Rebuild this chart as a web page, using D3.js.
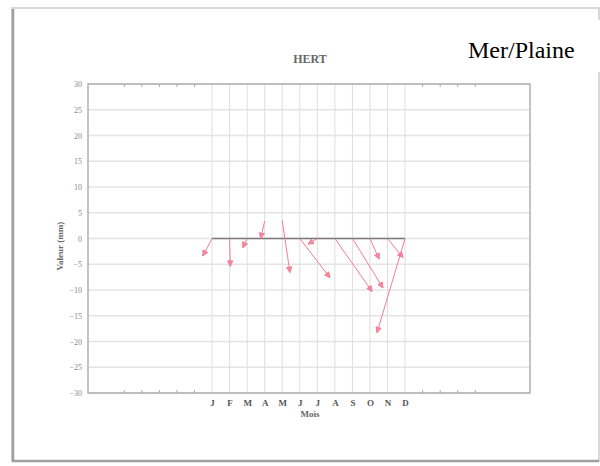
<!DOCTYPE html>
<html>
<head>
<meta charset="utf-8">
<script src="https://cdn.jsdelivr.net/npm/d3@7"></script>
<style>
  body { margin: 0; background: #fff; }
  svg { display: block; font-family: "Liberation Serif", "DejaVu Serif", serif; }
</style>
</head>
<body>
<div id="chart"></div>
<script>
// Données
const months = ["J", "F", "M", "A", "M", "J", "J", "A", "S", "O", "N", "D"];
const monthPos = [1, 2, 3, 4, 5, 6, 7, 8, 9, 10, 11, 12];
const yTicks = [30, 25, 20, 15, 10, 5, 0, -5, -10, -15, -20, -25, -30];
const edgeTicks = [-4, -3, -2, -1, 0, 13, 14, 15, 16];

// flèches : départ (x0, y0) -> arrivée (x1, y1), en mois et en mm
const arrowX0 = [1, 2, 3, 4, 5, 6, 7, 8, 9, 10, 11, 12];
const arrowY0 = [0, 0, 0, 3.4, 3.5, 0, 0, 0, 0, 0, 0, 0];
const arrowX1 = [0.47, 2.04, 2.75, 3.77, 5.44, 7.72, 6.47, 10.12, 10.74, 10.52, 11.88, 10.4];
const arrowY1 = [-3.4, -5.4, -1.8, 0, -6.6, -7.6, -1.1, -10.3, -9.6, -4.0, -3.7, -18.3];

const width = 600, height = 466;
const serif = '"Liberation Serif", "DejaVu Serif", serif';
const svg = d3.select("#chart").append("svg")
    .attr("width", width).attr("height", height);

// cadre extérieur
svg.append("rect")
    .attr("x", 12).attr("y", 8).attr("width", 587).attr("height", 453)
    .attr("fill", "#fff").attr("stroke", "#cccccc").attr("stroke-width", 1.5);
svg.append("path")
    .attr("d", "M13,9 L13,461 L599,461")
    .attr("fill", "none").attr("stroke", "#a0a0a0").attr("stroke-width", 2.5);

const plot = { left: 88, right: 530, top: 84, bottom: 393 };

const x = d3.scaleLinear().domain([-6.07, 19.12]).range([plot.left, plot.right]);
const y = d3.scaleLinear().domain([-30, 30]).range([plot.bottom, plot.top]);

// grille horizontale
svg.append("g")
    .selectAll("line")
    .data(yTicks)
    .enter().append("line")
    .attr("x1", plot.left).attr("x2", plot.right)
    .attr("y1", d => y(d)).attr("y2", d => y(d))
    .attr("stroke", "#e4e4e4").attr("stroke-width", 1.5);

// grille verticale (mois)
svg.append("g")
    .selectAll("line")
    .data(monthPos)
    .enter().append("line")
    .attr("x1", d => x(d)).attr("x2", d => x(d))
    .attr("y1", plot.top).attr("y2", plot.bottom)
    .attr("stroke", "#dedede").attr("stroke-width", 1);

// cadre du graphique
svg.append("rect")
    .attr("x", plot.left).attr("y", plot.top)
    .attr("width", plot.right - plot.left).attr("height", plot.bottom - plot.top)
    .attr("fill", "none").attr("stroke", "#b0b0b0").attr("stroke-width", 1.5);

// petites graduations en haut et en bas
const tickG = svg.append("g").attr("stroke", "#aaa");
tickG.selectAll(".tb").data(edgeTicks).enter().append("line")
    .attr("x1", d => x(d)).attr("x2", d => x(d))
    .attr("y1", plot.bottom).attr("y2", plot.bottom - 3);
tickG.selectAll(".tt").data(edgeTicks).enter().append("line")
    .attr("x1", d => x(d)).attr("x2", d => x(d))
    .attr("y1", plot.top).attr("y2", plot.top + 3);

// axe Y
const yAxis = svg.append("g")
    .attr("transform", `translate(${plot.left},0)`)
    .call(d3.axisLeft(y).tickValues(yTicks).tickSize(0).tickPadding(6))
    .attr("font-family", serif);
yAxis.select(".domain").remove();
yAxis.selectAll("text")
    .attr("fill", "#888").style("font-size", "8px");

// axe X (mois)
const xAxis = svg.append("g")
    .attr("transform", `translate(0,${plot.bottom})`)
    .call(d3.axisBottom(x).tickValues(monthPos).tickFormat((d, i) => months[i]).tickSize(0).tickPadding(7))
    .attr("font-family", serif);
xAxis.select(".domain").remove();
xAxis.selectAll("text")
    .attr("fill", "#555").style("font-size", "9px").style("font-weight", "bold");

// titres
svg.append("text")
    .attr("x", 310).attr("y", 63).attr("text-anchor", "middle")
    .attr("fill", "#666").style("font-size", "12px").style("font-weight", "bold")
    .text("HERT");

svg.append("text")
    .attr("x", 310).attr("y", 417).attr("text-anchor", "middle")
    .attr("fill", "#666").style("font-size", "9px").style("font-weight", "bold")
    .text("Mois");

svg.append("text")
    .attr("transform", `translate(63,${y(-1.5)}) rotate(-90)`)
    .attr("text-anchor", "middle")
    .attr("fill", "#666").style("font-size", "9px").style("font-weight", "bold")
    .text("Valeur (mm)");

// étiquette en haut à droite
svg.append("rect")
    .attr("x", 458).attr("y", 20).attr("width", 142).attr("height", 52)
    .attr("fill", "#fff");
svg.append("text")
    .attr("x", 468).attr("y", 58)
    .attr("fill", "#000").style("font-size", "24px")
    .text("Mer/Plaine");

// ligne de base à zéro
svg.append("line")
    .attr("x1", x(1)).attr("x2", x(12))
    .attr("y1", y(0)).attr("y2", y(0))
    .attr("stroke", "#7a7a7a").attr("stroke-width", 1.5);

// flèches
const arrows = arrowX0.map((d, i) => ({ x0: d, y0: arrowY0[i], x1: arrowX1[i], y1: arrowY1[i] }));
const ag = svg.append("g")
    .attr("stroke", "#f07e95").attr("stroke-width", 1);

arrows.forEach(a => {
    const px0 = x(a.x0), py0 = y(a.y0), px1 = x(a.x1), py1 = y(a.y1);
    const ang = Math.atan2(py1 - py0, px1 - px0);
    const hl = 6, ha = 0.45;
    ag.append("line")
        .attr("x1", px0).attr("y1", py0).attr("x2", px1).attr("y2", py1);
    ag.append("path")
        .attr("fill", "#f48aa0")
        .attr("d", `M${px1 - hl * Math.cos(ang - ha)},${py1 - hl * Math.sin(ang - ha)}` +
                   `L${px1},${py1}` +
                   `L${px1 - hl * Math.cos(ang + ha)},${py1 - hl * Math.sin(ang + ha)}Z`);
});
</script>
</body>
</html>
